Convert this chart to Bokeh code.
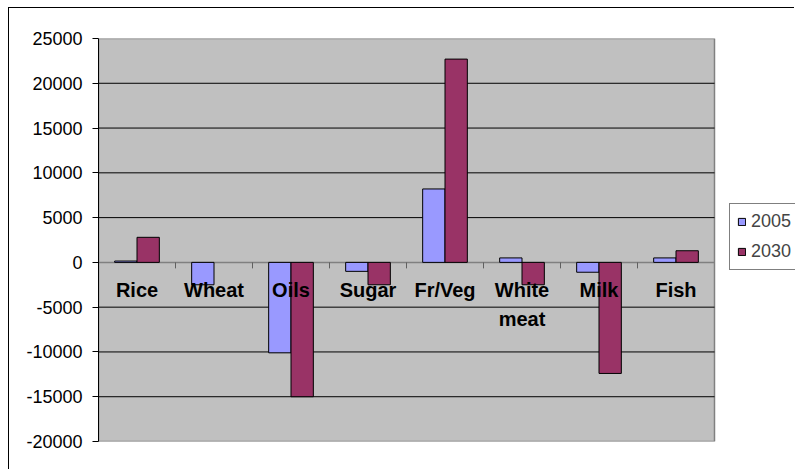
import math
from bokeh.plotting import figure
from bokeh.models import (Range1d, FixedTicker, Legend, LegendItem,
                          ColumnDataSource, NumeralTickFormatter)
from bokeh.transform import dodge
from bokeh.core.properties import value
from bokeh.embed import file_html
from bokeh.resources import INLINE

# ---- data ----
categories = ["Rice", "Wheat", "Oils", "Sugar", "Fr/Veg", "White meat", "Milk", "Fish"]
category_labels = ["Rice", "Wheat", "Oils", "Sugar", "Fr/Veg", "White\nmeat", "Milk", "Fish"]
series_2005 = [150, -2500, -10100, -1000, 8200, 500, -1100, 500]
series_2030 = [2800, float("nan"), -15000, -2500, 22700, -2500, -12400, 1300]
y_ticks = [-20000, -15000, -10000, -5000, 0, 5000, 10000, 15000, 20000, 25000]
series_names = ["2005", "2030"]

FONT = "Liberation Sans"
C2005 = "#9999FF"
C2030 = "#993366"

n = len(categories)
xpos = [i + 0.5 for i in range(n)]          # category centres
bounds = [i + 1 for i in range(n - 1)]      # boundaries between categories
y_min, y_max = y_ticks[0], y_ticks[-1]

# layout sizes (pixels)
W, H = 786, 462
LEFT, TOP, BOTTOM = 89, 30, 29
PLOT_W = 616                                # width of the grey plot area
frame_w = W - LEFT
x_end = n * frame_w / PLOT_W

src = ColumnDataSource(dict(x=xpos, lab=category_labels,
                            v2005=series_2005, v2030=series_2030))

p = figure(width=W, height=H, output_backend="svg", toolbar_location=None,
           x_range=Range1d(0, x_end), y_range=Range1d(y_min, y_max),
           x_axis_location=None,
           min_border_left=LEFT, min_border_right=0,
           min_border_top=TOP, min_border_bottom=BOTTOM)
p.styles = {"margin-left": "8px", "margin-top": "7px",
            "border-left": "1px solid black", "border-top": "1px solid black"}

p.background_fill_color = "white"
p.border_fill_color = "white"
p.outline_line_color = None
p.xgrid.visible = False
p.ygrid.visible = False

# y axis
p.yaxis.ticker = FixedTicker(ticks=y_ticks)
p.yaxis.formatter = NumeralTickFormatter(format="0")
p.yaxis.minor_tick_line_color = None
p.yaxis.major_tick_in = 0
p.yaxis.major_tick_out = 6
p.yaxis.major_tick_line_color = "black"
p.yaxis.axis_line_color = "black"
p.yaxis.major_label_standoff = 10
p.yaxis.major_label_text_font = FONT
p.yaxis.major_label_text_font_size = "18px"
p.yaxis.major_label_text_color = "black"

# grey plot area
p.quad(left=[0], right=[n], bottom=[y_min], top=[y_max],
       fill_color="#C0C0C0", line_color="#808080", line_width=1.5)

# grid lines
grid_y = [t for t in y_ticks if t not in (0, y_min, y_max)]
p.segment(x0=[0] * len(grid_y), x1=[n] * len(grid_y), y0=grid_y, y1=grid_y,
          line_color="black", line_width=1)
# zero line
p.segment(x0=[0], x1=[n], y0=[0], y1=[0], line_color="#808080", line_width=1.5)

# bars
w = 0.29
r1 = p.vbar(x=dodge("x", -w / 2), top="v2005", bottom=0,
            width=w, source=src, fill_color=C2005, line_color="black", line_width=1)
r2 = p.vbar(x=dodge("x", w / 2), top="v2030", bottom=0,
            width=w, source=src, fill_color=C2030, line_color="black", line_width=1)

# category boundary tick marks on the zero line
p.ray(x=bounds, y=[0] * len(bounds), length=6, length_units="screen",
      angle=-math.pi / 2, line_color="#606060", line_width=1)

# category labels
p.text(x="x", y=0, text="lab", source=src, text_align="center",
       text_baseline="top", y_offset=17, text_font=value(FONT),
       text_font_size="20px", text_font_style="bold", text_color="black",
       text_line_height=1.3)

legend = Legend(items=[LegendItem(label=series_names[0], renderers=[r1]),
                       LegendItem(label=series_names[1], renderers=[r2])],
                location=(631, 171), glyph_width=9, glyph_height=9,
                label_text_font=FONT, label_text_font_size="18px",
                label_height=20, label_standoff=5, padding=7, spacing=9,
                border_line_color="black", border_line_width=1,
                background_fill_color="white", background_fill_alpha=1,
                margin=0)
p.add_layout(legend)

open("out.html", "w").write(file_html(p, INLINE))
